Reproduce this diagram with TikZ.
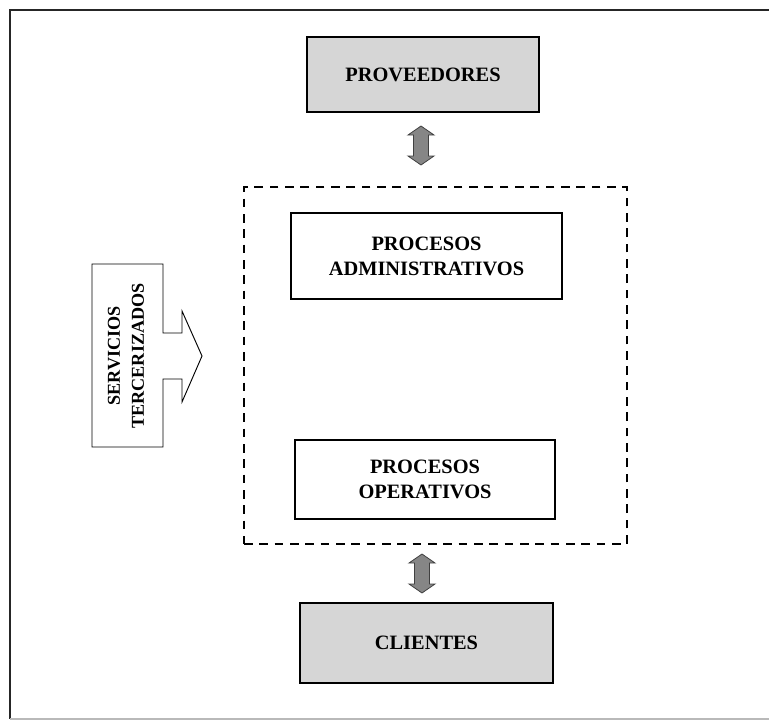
\documentclass[tikz,border=0pt]{standalone}
\usepackage{fontspec}
\setmainfont{Liberation Serif}
\usetikzlibrary{calc}
\tikzset{
  shaded/.style={draw=black, line width=1.9pt, fill=gray!32, inner sep=0pt, align=center,
     font=\fontsize{15.3}{18.8}\selectfont\bfseries},
  whitebox/.style={draw=black, line width=1.6pt, fill=white, inner sep=0pt, align=center,
     font=\fontsize{15.3}{18.8}\selectfont\bfseries},
  dashbox/.style={draw=black, line width=2pt, dash pattern=on 6.5pt off 5pt},
  arrstyle/.style={fill=gray!95, draw=gray!50!black, line width=0.6pt, line join=miter},
  svcshape/.style={draw=black, line width=0.7pt, fill=white},
  svctext/.style={font=\fontsize{13.6}{18}\selectfont\bfseries, align=center, rotate=90, inner sep=0pt}
}
\newcommand\dblarr[2]{%
  \filldraw[arrstyle] (#1) -- ($(#1)+(13,9)$) -- ($(#1)+(7.5,9)$) -- ($(#2)+(7.5,-9)$) -- ($(#2)+(13,-9)$)
    -- (#2) -- ($(#2)+(-13,-9)$) -- ($(#2)+(-7.5,-9)$) -- ($(#1)+(-7.5,9)$) -- ($(#1)+(-13,9)$) -- cycle;}
\begin{document}
\begin{tikzpicture}[x=0.75pt,y=-0.75pt]
\useasboundingbox (0,0) rectangle (769,722);
% frame
\draw[line width=2pt, black!85] (769,10) -- (10,10) -- (10,719);
\draw[line width=1pt, gray!55] (10,719) -- (769,719);
% dashed container
\node[dashbox, minimum width=383*0.75pt, minimum height=357*0.75pt, inner sep=0pt] (dash) at (435.5,365.5) {};
% boxes
\node[shaded, minimum width=232*0.75pt, minimum height=75*0.75pt] (prov) at (423,74.5) {PROVEEDORES};
\node[whitebox, minimum width=271*0.75pt, minimum height=86*0.75pt] (adm) at (426.5,256) {PROCESOS\\ADMINISTRATIVOS};
\node[whitebox, minimum width=260*0.75pt, minimum height=79*0.75pt] (oper) at (425,479.5) {PROCESOS\\OPERATIVOS};
\node[shaded, minimum width=253*0.75pt, minimum height=80*0.75pt] (cli) at (426.5,643) {CLIENTES};
% double arrows
\coordinate (a1t) at (421,126);
\coordinate (a1b) at (421,165);
\coordinate (a2t) at (422,554);
\coordinate (a2b) at (422,593);
\dblarr{a1t}{a1b}
\dblarr{a2t}{a2b}
% servicios tercerizados block arrow
\draw[svcshape] (92,264) -- (163,264) -- (163,333) -- (182,333) -- (182,311) -- (202,356)
  -- (182,402) -- (182,379) -- (163,379) -- (163,447) -- (92,447) -- cycle;
\node[svctext] (svc) at (126,356) {SERVICIOS\\TERCERIZADOS};
\end{tikzpicture}
\end{document}
